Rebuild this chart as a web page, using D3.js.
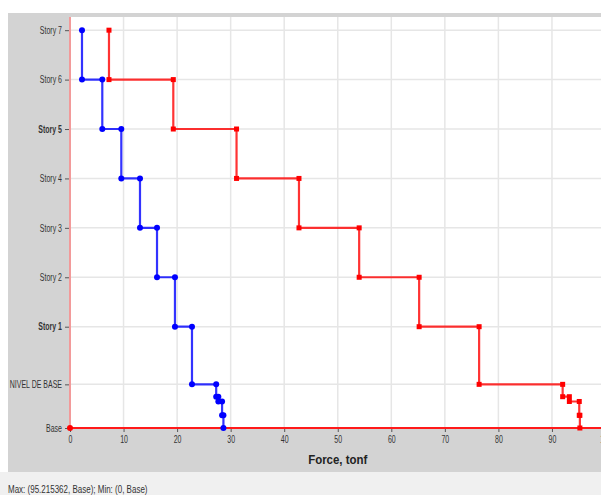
<!DOCTYPE html>
<html>
<head>
<meta charset="utf-8">
<script src="https://cdn.jsdelivr.net/npm/d3@7"></script>
<style>
  html, body { margin: 0; padding: 0; background: #fff; }
  svg { display: block; }
</style>
</head>
<body>
<svg id="chart" width="601" height="495"></svg>
<script>
// Level names (top to bottom) and their elevations, m
const levelNames = ["Story 7", "Story 6", "Story 5", "Story 4", "Story 3", "Story 2", "Story 1",
                    "NIVEL DE BASE", "", "", "", "Base"];
const levelElev  = [24.15, 21.15, 18.15, 15.15, 12.15, 9.15, 6.15, 2.65, 1.90, 1.61, 0.77, 0];
const boldLevels = ["Story 5", "Story 1"];

// Story force per segment (between consecutive levels), tonf
const forceBlue = [2.24, 6.03, 9.58, 13.07, 16.25, 19.6, 22.78, 27.3, 27.7, 28.4, 28.65];
const forceRed  = [7.28, 19.29, 31.1, 42.76, 54.0, 65.2, 76.4, 92.0, 93.25, 95.1, 95.215362];

const xTicks = [0, 10, 20, 30, 40, 50, 60, 70, 80, 90, 100];

const svg = d3.select("#chart");
const W = 601, H = 495;
const font = "'Liberation Sans', Arial, sans-serif";
const narrow = 0.7;   // horizontal squeeze for a condensed look

// Panels
svg.append("rect").attr("x", 0).attr("y", 0).attr("width", W).attr("height", H).attr("fill", "#ffffff");
svg.append("rect").attr("x", 8).attr("y", 13).attr("width", W - 8).attr("height", 459).attr("fill", "#d3d3d3");
svg.append("rect").attr("x", 0).attr("y", 472).attr("width", W).attr("height", H - 472).attr("fill", "#f0f0f0");

const plot = { left: 70, top: 17, right: 605.5, bottom: 428 };
svg.append("rect").attr("x", plot.left).attr("y", plot.top)
  .attr("width", plot.right - plot.left).attr("height", plot.bottom - plot.top).attr("fill", "#ffffff");

const x = d3.scaleLinear().domain([0, 100]).range([plot.left, plot.right]);
const y = d3.scaleLinear().domain([0, 24.95]).range([plot.bottom, plot.top]);

const labeled = levelNames.map((n, i) => ({ name: n, elev: levelElev[i] })).filter(d => d.name !== "");

// Grid
const grid = svg.append("g").attr("stroke", "#e6e6e6").attr("stroke-width", 1.5);
grid.selectAll("line.v").data(xTicks.slice(1)).join("line")
  .attr("x1", d => x(d)).attr("x2", d => x(d)).attr("y1", plot.top).attr("y2", plot.bottom);
grid.selectAll("line.h").data(labeled.filter(d => d.elev > 0)).join("line")
  .attr("x1", plot.left).attr("x2", plot.right).attr("y1", d => y(d.elev)).attr("y2", d => y(d.elev));

// Axes
const yAxis = d3.axisLeft(y).tickValues(labeled.map(d => d.elev))
  .tickFormat(v => labeled.find(d => d.elev === v).name).tickSize(5).tickPadding(3);
const gy = svg.append("g").attr("transform", `translate(${plot.left},0)`).call(yAxis);
gy.select(".domain").remove();
gy.selectAll(".tick line").attr("stroke", "#555");
gy.selectAll(".tick text").attr("fill", "#333").style("font-family", font).style("font-size", "10px")
  .attr("x", -8 / narrow).attr("transform", `scale(${narrow},1)`)
  .style("font-weight", v => boldLevels.includes(labeled.find(d => d.elev === v).name) ? "bold" : "normal");

const xAxis = d3.axisBottom(x).tickValues(xTicks).tickFormat(d3.format("d")).tickSize(4).tickPadding(4);
const gx = svg.append("g").attr("transform", `translate(0,${plot.bottom})`).call(xAxis);
gx.select(".domain").remove();
gx.selectAll(".tick line").attr("stroke", "#555");
gx.selectAll(".tick text").attr("fill", "#333").style("font-family", font).style("font-size", "10px")
  .attr("transform", `scale(${narrow},1)`);

const cx = (plot.left + plot.right) / 2;
svg.append("text").attr("transform", `translate(${cx},464) scale(0.85,1)`)
  .attr("text-anchor", "middle").attr("fill", "#222")
  .style("font-family", font).style("font-size", "13.5px").style("font-weight", "bold")
  .text("Force, tonf");

// Left and base lines
svg.append("line").attr("x1", x(0)).attr("x2", x(0)).attr("y1", plot.top).attr("y2", plot.bottom)
  .attr("stroke", "#f29a9a").attr("stroke-width", 2);
svg.append("line").attr("x1", x(0)).attr("x2", W).attr("y1", y(0)).attr("y2", y(0))
  .attr("stroke", "#ff1a1a").attr("stroke-width", 2);

// Step series: each force spans from its level down to the next one
function stepPoints(force) {
  const pts = [];
  force.forEach((f, i) => {
    pts.push([f, levelElev[i]]);
    pts.push([f, levelElev[i + 1]]);
  });
  return pts;
}
const line = d3.line().x(d => x(d[0])).y(d => y(d[1]));

function drawSeries(force, color, marker) {
  const pts = stepPoints(force);
  svg.append("path").attr("d", line(pts)).attr("fill", "none")
    .attr("stroke", color).attr("stroke-width", 2.2).attr("stroke-opacity", 0.8);
  const g = svg.append("g").attr("fill", color);
  if (marker === "circle") {
    g.selectAll("circle").data(pts).join("circle")
      .attr("cx", d => x(d[0])).attr("cy", d => y(d[1])).attr("r", 3);
  } else {
    g.selectAll("rect").data(pts).join("rect")
      .attr("x", d => x(d[0]) - 2.5).attr("y", d => y(d[1]) - 2.5).attr("width", 5).attr("height", 5);
  }
}
drawSeries(forceRed, "#ff0000", "square");
drawSeries(forceBlue, "#0000ff", "circle");

// Origin marker
svg.append("circle").attr("cx", x(0)).attr("cy", y(0)).attr("r", 3).attr("fill", "#ff0000");

// Footer
svg.append("text").attr("transform", "translate(8,493) scale(0.8,1)").attr("fill", "#333")
  .style("font-family", font).style("font-size", "10px")
  .text("Max: (" + d3.max(forceRed) + ", Base);   Min: (0, Base)");
</script>
</body>
</html>
